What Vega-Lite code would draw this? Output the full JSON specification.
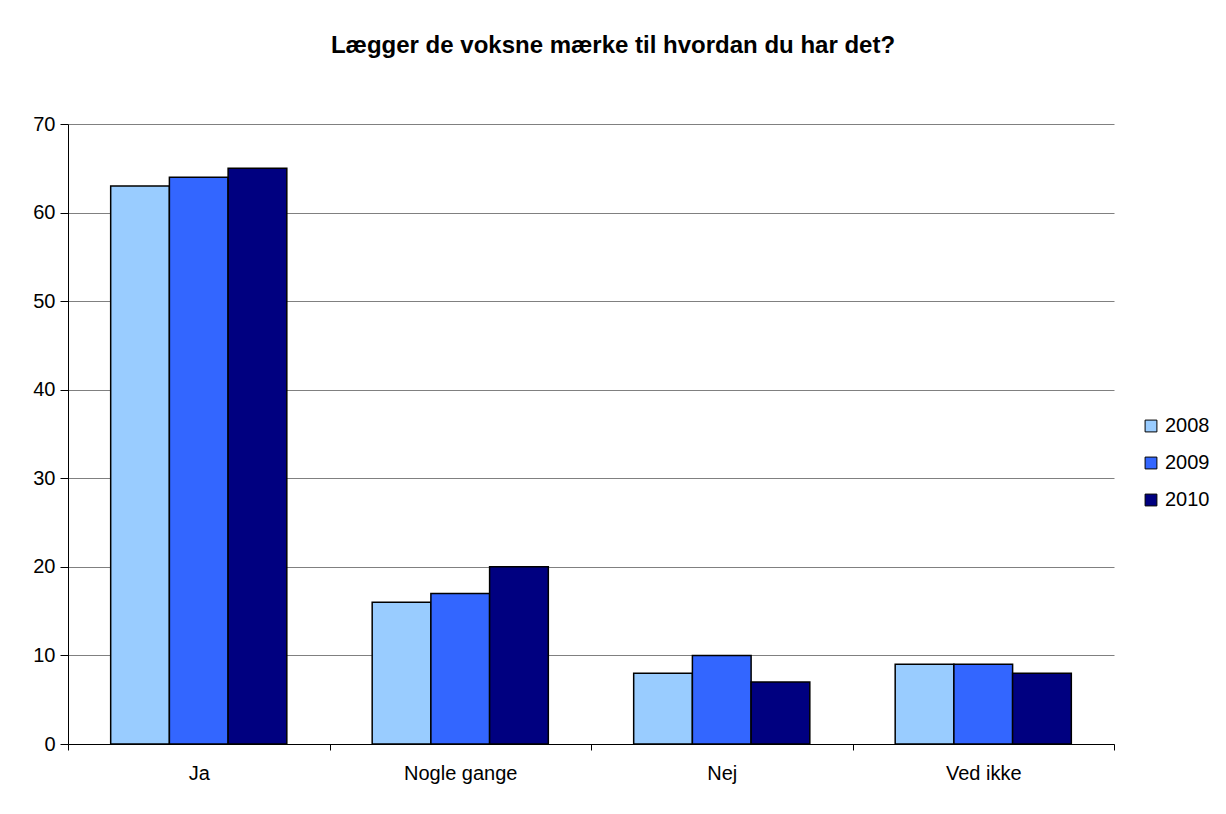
{
  "$schema": "https://vega.github.io/schema/vega-lite/v6.json",
  "autosize": {"type": "none"},
  "width": 1046,
  "height": 620,
  "padding": {"left": 68, "top": 124, "right": 112, "bottom": 70},
  "background": "white",
  "title": {
    "text": "Lægger de voksne mærke til hvordan du har det?",
    "font": "Liberation Sans",
    "fontSize": 24,
    "fontWeight": "bold",
    "color": "black",
    "anchor": "middle",
    "dx": 22,
    "offset": 56
  },
  "data": {
    "values": [
      {"svar": "Ja", "aar": "2008", "pct": 63},
      {"svar": "Ja", "aar": "2009", "pct": 64},
      {"svar": "Ja", "aar": "2010", "pct": 65},
      {"svar": "Nogle gange", "aar": "2008", "pct": 16},
      {"svar": "Nogle gange", "aar": "2009", "pct": 17},
      {"svar": "Nogle gange", "aar": "2010", "pct": 20},
      {"svar": "Nej", "aar": "2008", "pct": 8},
      {"svar": "Nej", "aar": "2009", "pct": 10},
      {"svar": "Nej", "aar": "2010", "pct": 7},
      {"svar": "Ved ikke", "aar": "2008", "pct": 9},
      {"svar": "Ved ikke", "aar": "2009", "pct": 9},
      {"svar": "Ved ikke", "aar": "2010", "pct": 8}
    ]
  },
  "mark": {"type": "bar", "stroke": "black", "strokeWidth": 1.5},
  "encoding": {
    "x": {
      "field": "svar",
      "type": "nominal",
      "sort": ["Ja", "Nogle gange", "Nej", "Ved ikke"],
      "scale": {"paddingInner": 0, "paddingOuter": 0},
      "axis": {
        "title": null,
        "labelAngle": 0,
        "labelFont": "Liberation Sans",
        "labelFontSize": 20,
        "labelColor": "black",
        "labelPadding": 13,
        "bandPosition": 0,
        "tickBand": "extent",
        "tickSize": 6,
        "tickColor": "black",
        "domainColor": "black",
        "grid": false
      }
    },
    "xOffset": {
      "field": "aar",
      "type": "nominal",
      "scale": {"paddingInner": 0, "paddingOuter": 0.727}
    },
    "y": {
      "field": "pct",
      "type": "quantitative",
      "scale": {"domain": [0, 70], "nice": false},
      "axis": {
        "title": null,
        "values": [0, 10, 20, 30, 40, 50, 60, 70],
        "labelFont": "Liberation Sans",
        "labelFontSize": 20,
        "labelColor": "black",
        "labelPadding": 5,
        "tickSize": 8,
        "tickColor": "black",
        "domainColor": "black",
        "gridColor": "#808080",
        "gridWidth": 1
      }
    },
    "color": {
      "field": "aar",
      "type": "nominal",
      "scale": {"domain": ["2008", "2009", "2010"], "range": ["#99CCFF", "#3366FF", "#000080"]},
      "legend": {
        "title": null,
        "orient": "none",
        "legendX": 1073,
        "legendY": 292,
        "symbolType": "square",
        "symbolSize": 140,
        "symbolStrokeColor": "black",
        "symbolStrokeWidth": 1,
        "symbolOpacity": 1,
        "labelFont": "Liberation Sans",
        "labelFontSize": 20,
        "labelColor": "black",
        "labelOffset": 4,
        "rowPadding": 17
      }
    }
  },
  "config": {
    "view": {"stroke": null},
    "axis": {"domainWidth": 1, "tickWidth": 1}
  }
}
